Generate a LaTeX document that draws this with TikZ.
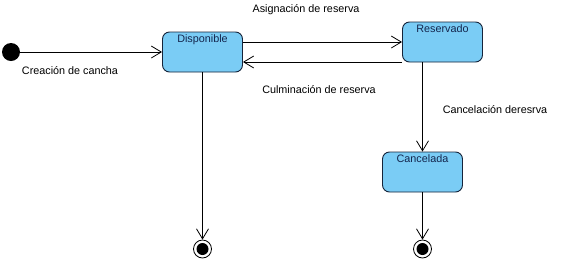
\documentclass[tikz,border=0pt]{standalone}
\usepackage{fontspec}
\setmainfont{Liberation Sans}
\usetikzlibrary{arrows.meta}

\definecolor{statefill}{RGB}{122,204,245}
\definecolor{stateline}{RGB}{22,36,58}
\definecolor{statetext}{RGB}{20,38,78}

\tikzset{
    every node/.style={font=\fontsize{10.8}{12}\selectfont},
    state/.style={draw=stateline, fill=statefill, rounded corners=7pt, line width=0.9pt,
        minimum width=80pt, minimum height=40pt, inner sep=0pt,
        label={[anchor=north, text=statetext, inner sep=0pt, yshift=-3pt]north:#1}},
    trans/.style={-{Straight Barb[length=10pt,width=12pt]}, line width=0.8pt},
    finalstate/.style={circle, draw, fill=white, line width=0.8pt, minimum size=18pt, inner sep=0pt},
}

\begin{document}
\begin{tikzpicture}[x=1pt, y=-1pt]
    \useasboundingbox (0,0) rectangle (562,266);

    \node (ini) at (11,52) [circle, fill=black, minimum size=18pt, inner sep=0pt] {};
    \node (disp) at (202.5,52) [state=Disponible] {};
    \node (res) at (442.5,42) [state=Reservado] {};
    \node (canc) at (422.5,172) [state=Cancelada] {};
    \node (fin1) at (202.5,249) [finalstate] {};
    \node (fin2) at (422.5,249) [finalstate] {};
    \fill (fin1) circle (6pt);
    \fill (fin2) circle (6pt);

    \draw[trans] (ini) -- (disp);
    \draw[trans] (disp.east |- 0,42) -- (res.west);
    \draw[trans] (res.west |- 0,62) -- (disp.east |- 0,62);
    \draw[trans] (res.south -| 422.5,0) -- (canc.north);
    \draw[trans] (disp) -- (fin1);
    \draw[trans] (canc) -- (fin2);

    % transition labels
    \node (lcrea) at (70,71) {Creación de cancha};
    \node (lasig) at (306,10) {Asignación de reserva};
    \node (lculm) at (319,90) {Culminación de reserva};
    \node (lcanc) at (495,110) {Cancelación deresrva};
\end{tikzpicture}
\end{document}
